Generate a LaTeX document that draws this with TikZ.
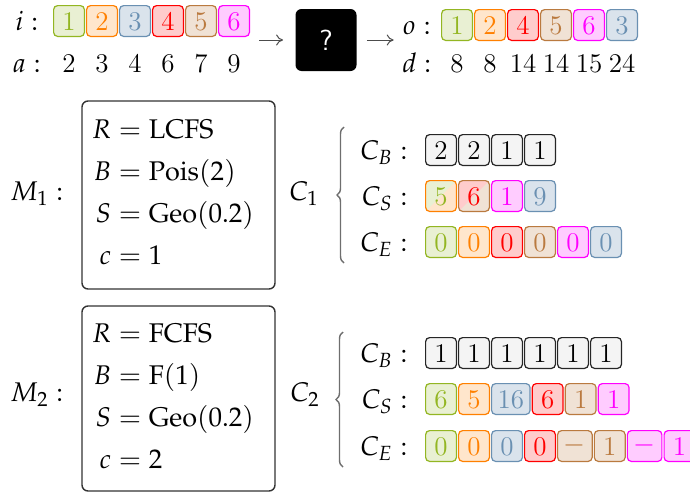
\documentclass[tikz,border=0pt]{standalone}
\usepackage{mathpazo}
\usepackage{amsmath}
\usetikzlibrary{positioning,fit,decorations.pathreplacing,arrows.meta}
\definecolor{JobGreen}{HTML}{93B622}
\definecolor{JobOrange}{HTML}{FF8000}
\definecolor{JobBlue}{HTML}{6A90B2}
\definecolor{JobRed}{HTML}{FF0000}
\definecolor{JobBrown}{HTML}{BA7A3F}
\definecolor{JobMagenta}{HTML}{FF00FF}
\definecolor{CellGrey}{HTML}{F4F4F4}
\definecolor{BraceGrey}{HTML}{6E6E6E}
\setlength{\jot}{4.5pt}
\newcommand{\negsign}{\raisebox{1.3pt}{$-$}}

\begin{document}
\begin{tikzpicture}[
    x=0.5pt, y=-0.5pt,
    font=\fontsize{13.5}{16.5}\selectfont,
    node distance=0.5pt,
    cell/.style={rounded corners=2pt, line width=0.6pt, minimum width=15.4pt, minimum height=15.4pt, inner xsep=3pt, inner ysep=0pt, text height=9.3pt, text depth=0pt},
    gcell/.style={cell, draw=JobGreen, fill=JobGreen!20, text=JobGreen},
    ocell/.style={cell, draw=JobOrange, fill=JobOrange!20, text=JobOrange},
    bcell/.style={cell, draw=JobBlue, fill=JobBlue!25, text=JobBlue},
    rcell/.style={cell, draw=JobRed, fill=JobRed!20, text=JobRed},
    ncell/.style={cell, draw=JobBrown, fill=JobBrown!22, text=JobBrown},
    mcell/.style={cell, draw=JobMagenta, fill=JobMagenta!20, text=JobMagenta},
    kcell/.style={cell, draw=black!85, fill=CellGrey, text=black},
    gocell/.style={cell, draw=JobOrange, fill=JobGreen!20, text=JobGreen,
        path picture={\fill[JobOrange!20] (path picture bounding box.south west) -- (path picture bounding box.south east) -- (path picture bounding box.north east) -- cycle;}},
    rncell/.style={cell, draw=JobBrown, fill=JobRed!20, text=JobRed,
        path picture={\fill[JobBrown!22] (path picture bounding box.south west) -- (path picture bounding box.south east) -- (path picture bounding box.north east) -- cycle;}},
    seqlabel/.style={inner sep=0pt, text height=9.3pt, text depth=0pt},
    rowlabel/.style={inner sep=0pt, anchor=east, text height=9.3pt, text depth=0pt},
    parambox/.style={draw=black!80, line width=0.7pt, rounded corners=3pt, text width=86.5pt, align=left, inner xsep=5pt},
    blackbox/.style={fill=black, rounded corners=3pt, minimum width=30.5pt, minimum height=31pt, text=white, font=\fontsize{14.5}{17}\selectfont\sffamily},
    seqarrow/.style={-{To[length=3.5pt,width=5.5pt]}, draw=black!70, line width=0.5pt},
    clusterbrace/.style={decorate, decoration={brace, amplitude=3.5pt}, draw=BraceGrey, line width=0.7pt}
]

\useasboundingbox (0,0) rectangle (690,493);

% arrivals
\node[seqlabel] (ilab) at (27,21) {$i:$};
\node[seqlabel] (alab) at (27,63) {$a:$};
\node[gcell] (in1) at (69,21) {1};
\node[ocell, right=of in1] (in2) {2};
\node[bcell, right=of in2] (in3) {3};
\node[rcell, right=of in3] (in4) {4};
\node[ncell, right=of in4] (in5) {5};
\node[mcell, right=of in5] (in6) {6};
\node[seqlabel] (a1) at (in1 |- alab) {2};
\node[seqlabel] (a2) at (in2 |- alab) {3};
\node[seqlabel] (a3) at (in3 |- alab) {4};
\node[seqlabel] (a4) at (in4 |- alab) {6};
\node[seqlabel] (a5) at (in5 |- alab) {7};
\node[seqlabel] (a6) at (in6 |- alab) {9};
\node[fit=(ilab)(in6)(alab)(a6), inner sep=0pt] (inseq) {};

\node[blackbox] (qbox) at (326,40) {?};

% departures
\node[seqlabel] (olab) at (417,25) {$o:$};
\node[seqlabel] (dlab) at (417,63) {$d:$};
\node[gcell] (out1) at (457,25) {1};
\node[ocell, right=of out1] (out2) {2};
\node[rcell, right=of out2] (out3) {4};
\node[ncell, right=of out3] (out4) {5};
\node[mcell, right=of out4] (out5) {6};
\node[bcell, right=of out5] (out6) {3};
\node[seqlabel] (d1) at (out1 |- dlab) {8};
\node[seqlabel] (d2) at (out2 |- dlab) {8};
\node[seqlabel] (d3) at (out3 |- dlab) {14};
\node[seqlabel] (d4) at (out4 |- dlab) {14};
\node[seqlabel] (d5) at (out5 |- dlab) {15};
\node[seqlabel] (d6) at (out6 |- dlab) {24};
\node[fit=(olab)(out6)(dlab)(d6), inner sep=0pt] (outseq) {};

\draw[seqarrow, shorten <=4.5pt, shorten >=6pt] (inseq.east |- qbox.west) -- (qbox.west);
\draw[seqarrow, shorten <=5pt, shorten >=4pt] (qbox.east) -- (outseq.west |- qbox.east);

% model 1
\node[seqlabel] (m1lab) at (37,191) {$M_1:$};
\node[parambox, minimum height=94pt] (m1box) at (178.5,195)
      {$\begin{aligned} R &= \mathrm{LCFS}\\ B &= \mathrm{Pois}(2)\\ S &= \mathrm{Geo}(0.2)\\ c &= 1\end{aligned}$};
\node[seqlabel] (c1lab) at (304,191) {$C_1$};
\coordinate (m1top) at (344,127);
\coordinate (m1bot) at (344,263);
\draw[clusterbrace] (m1bot) -- (m1top);

\node[rowlabel] (m1blab) at (408,150) {$C_B:$};
\node[rowlabel] (m1slab) at (408,196) {$C_S:$};
\node[rowlabel] (m1elab) at (408,242) {$C_E:$};

\node[kcell] (m1b1) at (441,150) {2};
\node[kcell, right=of m1b1] (m1b2) {2};
\node[kcell, right=of m1b2] (m1b3) {1};
\node[kcell, right=of m1b3] (m1b4) {1};

\node[gocell] (m1s1) at (441,196) {5};
\node[rncell, right=of m1s1] (m1s2) {6};
\node[mcell, right=of m1s2] (m1s3) {1};
\node[bcell, right=of m1s3] (m1s4) {9};

\node[gcell] (m1e1) at (441,242) {0};
\node[ocell, right=of m1e1] (m1e2) {0};
\node[rcell, right=of m1e2] (m1e3) {0};
\node[ncell, right=of m1e3] (m1e4) {0};
\node[mcell, right=of m1e4] (m1e5) {0};
\node[bcell, right=of m1e5] (m1e6) {0};

% model 2
\node[seqlabel] (m2lab) at (37,392) {$M_2:$};
\node[parambox, minimum height=92.5pt] (m2box) at (178.5,398.5)
      {$\begin{aligned} R &= \mathrm{FCFS}\\ B &= \mathrm{F}(1)\\ S &= \mathrm{Geo}(0.2)\\ c &= 2\end{aligned}$};
\node[seqlabel] (c2lab) at (305,392) {$C_2$};
\coordinate (m2top) at (343,332);
\coordinate (m2bot) at (343,467);
\draw[clusterbrace] (m2bot) -- (m2top);

\node[rowlabel] (m2blab) at (408,353) {$C_B:$};
\node[rowlabel] (m2slab) at (408,399) {$C_S:$};
\node[rowlabel] (m2elab) at (408,446) {$C_E:$};

\node[kcell] (m2b1) at (441,353) {1};
\node[kcell, right=of m2b1] (m2b2) {1};
\node[kcell, right=of m2b2] (m2b3) {1};
\node[kcell, right=of m2b3] (m2b4) {1};
\node[kcell, right=of m2b4] (m2b5) {1};
\node[kcell, right=of m2b5] (m2b6) {1};

\node[gcell] (m2s1) at (441,399) {6};
\node[ocell, right=of m2s1] (m2s2) {5};
\node[bcell, right=of m2s2] (m2s3) {16};
\node[rcell, right=of m2s3] (m2s4) {6};
\node[ncell, right=of m2s4] (m2s5) {1};
\node[mcell, right=of m2s5] (m2s6) {1};

\node[gcell] (m2e1) at (441,446) {0};
\node[ocell, right=of m2e1] (m2e2) {0};
\node[bcell, right=of m2e2] (m2e3) {0};
\node[rcell, right=of m2e3] (m2e4) {0};
\node[ncell, right=of m2e4] (m2e5) {\negsign};
\node[ncell, right=of m2e5] (m2e6) {1};
\node[mcell, right=of m2e6] (m2e7) {\negsign};
\node[mcell, right=of m2e7] (m2e8) {1};

\end{tikzpicture}
\end{document}
